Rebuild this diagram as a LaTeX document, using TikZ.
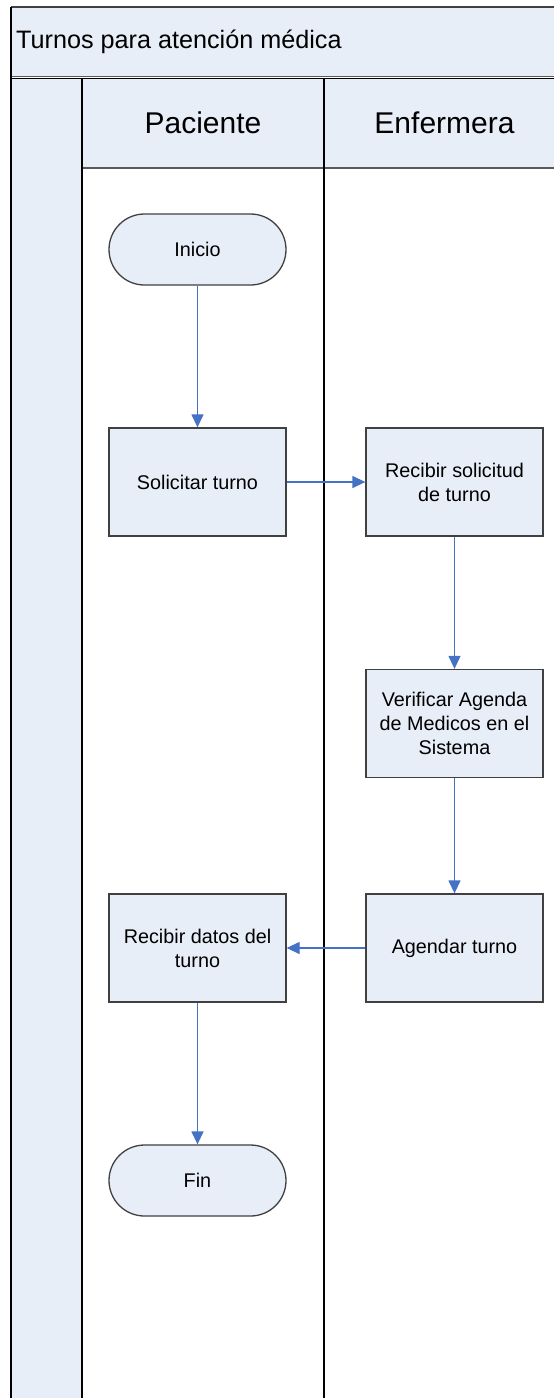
\documentclass[tikz,border=0pt]{standalone}
\usepackage{fontspec}
\setmainfont{Liberation Sans}
\usetikzlibrary{arrows.meta}
\definecolor{lanefill}{HTML}{E8EEF7}
\definecolor{boxline}{HTML}{404040}
\definecolor{flowblue}{HTML}{4472C4}
\definecolor{headline}{HTML}{5A5A5A}
\tikzset{
  procbox/.style={draw=boxline, line width=1.3pt, fill=lanefill, minimum width=177pt,
    minimum height=108pt, align=center, font=\fontsize{19.8}{24}\selectfont, inner sep=0pt},
  termbox/.style={procbox, minimum height=71pt, rounded corners=35.5pt},
  flow/.style={draw=flowblue, line width=1.3pt, -{Triangle[length=13pt,width=12pt]}},
  poolline/.style={draw=black, line width=2pt},
}
\begin{document}
\begin{tikzpicture}[x=1pt, y=-1pt]
\clip (0,0) rectangle (554,1398);
\fill[white] (0,0) rectangle (554,1398);
% title band
\fill[lanefill] (11,7) rectangle (570,77);
\node[anchor=west, font=\fontsize{25.2}{28}\selectfont, inner sep=0pt] (title) at (16,42) {Turnos para atención médica};
% left band
\fill[lanefill] (11,78) rectangle (82,1400);
% lane headers
\fill[lanefill] (82,78) rectangle (570,168);
\node[font=\fontsize{30}{34}\selectfont] (lanepac) at (203,123) {Paciente};
\node[font=\fontsize{30}{34}\selectfont] (laneenf) at (444.5,123) {Enfermera};
% pool lines
\draw[line width=1.5pt, boxline] (11,7) -- (570,7);
\draw[line width=1.2pt, headline] (11,76.3) -- (570,76.3);
\draw[line width=1.3pt, black] (11,78.6) -- (570,78.6);
\draw[line width=2pt, headline] (82,168) -- (570,168);
\draw[poolline] (11,7) -- (11,1400);
\draw[poolline] (82,78) -- (82,1400);
\draw[poolline] (324,78) -- (324,1400);
% process steps
\node[termbox] (inicio) at (197.5,249.5) {Inicio};
\node[procbox] (solicitar) at (197.5,482) {Solicitar turno};
\node[procbox] (recibirsol) at (454.5,482) {Recibir solicitud\\de turno};
\node[procbox] (verificar) at (454.5,723.5) {Verificar Agenda\\de Medicos en el\\Sistema};
\node[procbox] (agendar) at (454.5,948) {Agendar turno};
\node[procbox] (recibirdat) at (197.5,948) {Recibir datos del\\turno};
\node[termbox] (fin) at (197.5,1180.5) {Fin};
% connectors
\draw[flow] (inicio) -- (solicitar);
\draw[flow] (solicitar) -- (recibirsol);
\draw[flow] (recibirsol) -- (verificar);
\draw[flow] (verificar) -- (agendar);
\draw[flow] (agendar) -- (recibirdat);
\draw[flow] (recibirdat) -- (fin);
\end{tikzpicture}
\end{document}
